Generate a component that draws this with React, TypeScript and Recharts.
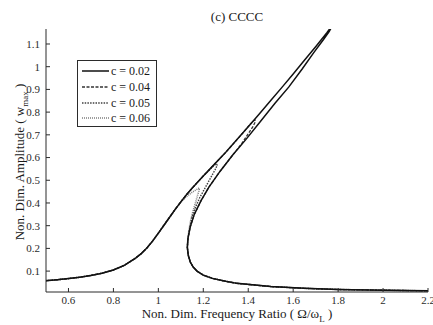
import React from 'react';
import { Line, LineChart, XAxis, YAxis } from 'recharts';

const FONT = "'Liberation Serif', 'Times New Roman', serif";
const INK = '#2b2b2b';

const X_TICKS = [0.6, 0.8, 1, 1.2, 1.4, 1.6, 1.8, 2, 2.2];
const Y_TICKS = [0.1, 0.2, 0.3, 0.4, 0.5, 0.6, 0.7, 0.8, 0.9, 1, 1.1];

// [frequency ratio, amplitude]
const LOW_BRANCH = [
  [0.5, 0.058], [0.55, 0.062], [0.6, 0.067], [0.65, 0.073], [0.7, 0.081],
  [0.75, 0.091], [0.8, 0.105], [0.85, 0.126], [0.9, 0.158], [0.925, 0.178],
  [0.95, 0.203], [0.975, 0.233], [1.0, 0.267], [1.025, 0.302], [1.05, 0.337],
  [1.075, 0.372],
];

// upper stable branch of c = 0.02
const UPPER_BRANCH = [
  [1.1, 0.405], [1.125, 0.436], [1.15, 0.465], [1.2, 0.519], [1.25, 0.571],
  [1.3, 0.623], [1.35, 0.679], [1.4, 0.736], [1.45, 0.793], [1.5, 0.851],
  [1.55, 0.909], [1.6, 0.968], [1.65, 1.028], [1.7, 1.088], [1.75, 1.15],
  [1.775, 1.183],
];

// unstable branch of c = 0.02, coming back down
const MIDDLE_BRANCH = [
  [1.78, 1.19], [1.76, 1.155], [1.735, 1.12], [1.69, 1.06], [1.64, 0.99],
  [1.58, 0.91], [1.52, 0.84], [1.455, 0.76], [1.39, 0.68], [1.33, 0.61],
  [1.275, 0.54], [1.225, 0.47], [1.19, 0.41], [1.16, 0.35], [1.142, 0.295],
  [1.132, 0.245], [1.129, 0.205], [1.133, 0.17], [1.142, 0.14],
];

const HIGH_BRANCH = [
  [1.155, 0.118], [1.172, 0.1], [1.2, 0.082], [1.24, 0.068], [1.3, 0.055],
  [1.35, 0.046], [1.5, 0.032], [1.65, 0.024], [1.8, 0.019], [2.0, 0.016],
  [2.2, 0.013],
];

const PEAK_004 = [
  [1.38, 0.713], [1.405, 0.743], [1.422, 0.76], [1.43, 0.765], [1.432, 0.758],
  [1.42, 0.735], [1.4, 0.705], [1.37, 0.66], [1.33, 0.61],
];

const PEAK_005 = [
  [1.225, 0.543], [1.245, 0.563], [1.258, 0.573], [1.262, 0.566], [1.252, 0.545],
  [1.235, 0.515], [1.21, 0.47], [1.185, 0.425], [1.165, 0.38], [1.15, 0.34],
  [1.14, 0.29],
];

const PEAK_006 = [
  [1.1, 0.403], [1.125, 0.428], [1.15, 0.447], [1.17, 0.459], [1.181, 0.466],
  [1.182, 0.458], [1.175, 0.435], [1.165, 0.4], [1.153, 0.36], [1.143, 0.32],
  [1.136, 0.28], [1.131, 0.24],
];

const toRows = (pts: number[][]) => pts.map(([f, a]) => ({ f, a }));

const C002 = toRows([...LOW_BRANCH, ...UPPER_BRANCH, ...MIDDLE_BRANCH, ...HIGH_BRANCH]);
const C004 = toRows([
  ...LOW_BRANCH,
  ...UPPER_BRANCH.filter((p) => p[0] <= 1.35),
  ...PEAK_004,
  ...MIDDLE_BRANCH.filter((p) => p[1] < 0.6),
  ...HIGH_BRANCH,
]);
const C005 = toRows([
  ...LOW_BRANCH,
  ...UPPER_BRANCH.filter((p) => p[0] <= 1.2),
  ...PEAK_005,
  ...MIDDLE_BRANCH.filter((p) => p[1] < 0.28),
  ...HIGH_BRANCH,
]);
const C006 = toRows([
  ...LOW_BRANCH,
  ...PEAK_006,
  ...MIDDLE_BRANCH.filter((p) => p[1] < 0.23),
  ...HIGH_BRANCH,
]);

const SERIES = [
  { name: 'c = 0.02', data: C002, stroke: '#111111', dash: undefined, width: 1.5 },
  { name: 'c = 0.04', data: C004, stroke: '#333333', dash: '3 1.5', width: 1.3 },
  { name: 'c = 0.05', data: C005, stroke: '#404040', dash: '1.5 1.2', width: 1.4 },
  { name: 'c = 0.06', data: C006, stroke: '#808080', dash: '1 1', width: 1.6 },
];

const fmt = (v: number) => String(Number(v.toFixed(1)));

const textStyle = { fontFamily: FONT, fontSize: 11, fill: INK };

const BottomTick = ({ x, y, payload }: any) => (
  <g>
    <line x1={x} x2={x} y1={y - 4} y2={y - 8} stroke={INK} />
    <text x={x} y={y} dy="0.71em" textAnchor="middle" {...textStyle}>
      {fmt(payload.value)}
    </text>
  </g>
);

const LeftTick = ({ x, y, payload }: any) => (
  <g>
    <line x1={x + 6} x2={x + 10} y1={y} y2={y} stroke={INK} />
    <text x={x} y={y} dy="0.35em" textAnchor="end" {...textStyle}>
      {fmt(payload.value)}
    </text>
  </g>
);

const TopTick = ({ x, y }: any) => (
  <line x1={x} x2={x} y1={y} y2={y + 4} stroke={INK} />
);

const RightTick = ({ x, y }: any) => (
  <line x1={x} x2={x - 4} y1={y} y2={y} stroke={INK} />
);

const LEGEND_ROWS = [10, 25.7, 41.5, 57.2];

export default function App() {
  return (
    <div
      style={{
        position: 'absolute',
        left: 0,
        top: 0,
        width: 433,
        height: 325,
        background: '#fff',
        fontFamily: FONT,
        color: '#1a1a1a',
      }}
    >
      <LineChart width={433} height={325} margin={{ top: 29, right: 5, bottom: 0, left: 0 }}>
        <XAxis
          type="number"
          dataKey="f"
          domain={[0.5, 2.2]}
          allowDataOverflow
          ticks={X_TICKS}
          interval={0}
          height={33}
          tickSize={0}
          tickMargin={4}
          tick={<BottomTick />}
          axisLine={{ stroke: INK }}
        />
        <XAxis
          xAxisId="top"
          orientation="top"
          type="number"
          dataKey="f"
          domain={[0.5, 2.2]}
          allowDataOverflow
          ticks={X_TICKS}
          interval={0}
          height={0}
          tickSize={0}
          tickMargin={0}
          tick={<TopTick />}
          axisLine={{ stroke: INK }}
        />
        <YAxis
          type="number"
          dataKey="a"
          domain={[0.008, 1.166]}
          allowDataOverflow
          ticks={Y_TICKS}
          interval={0}
          width={46}
          tickSize={0}
          tickMargin={6}
          tick={<LeftTick />}
          axisLine={{ stroke: INK }}
        />
        <YAxis
          yAxisId="right"
          orientation="right"
          type="number"
          domain={[0.008, 1.166]}
          allowDataOverflow
          ticks={Y_TICKS}
          interval={0}
          width={0}
          tickSize={0}
          tickMargin={0}
          tick={<RightTick />}
          axisLine={{ stroke: INK }}
        />
        {[...SERIES].reverse().map((s) => (
          <Line
            key={s.name}
            name={s.name}
            data={s.data}
            dataKey="a"
            type="linear"
            stroke={s.stroke}
            strokeWidth={s.width}
            strokeDasharray={s.dash}
            dot={false}
            activeDot={false}
            isAnimationActive={false}
          />
        ))}
      </LineChart>

      <div
        style={{
          position: 'absolute',
          left: 46,
          width: 382,
          top: 9,
          textAlign: 'center',
          fontSize: 13,
          lineHeight: '15px',
        }}
      >
        (c) CCCC
      </div>

      <div
        style={{
          position: 'absolute',
          left: 46,
          width: 382,
          top: 306,
          textAlign: 'center',
          fontSize: 13,
          lineHeight: '15px',
          whiteSpace: 'nowrap',
        }}
      >
        Non. Dim. Frequency Ratio ( Ω/ω<sub style={{ fontSize: 9 }}>L</sub> )
      </div>

      <div
        style={{
          position: 'absolute',
          left: 20 - 110,
          top: 162 - 8,
          width: 220,
          height: 16,
          textAlign: 'center',
          fontSize: 13,
          lineHeight: '16px',
          whiteSpace: 'nowrap',
          transform: 'rotate(-90deg)',
        }}
      >
        Non. Dim. Amplitude ( w<sub style={{ fontSize: 9 }}>max</sub> )
      </div>

      <div
        style={{
          position: 'absolute',
          left: 77,
          top: 60,
          width: 80,
          height: 67,
          border: `1px solid ${INK}`,
          background: '#fff',
          boxSizing: 'border-box',
        }}
      >
        {SERIES.map((s, i) => (
          <div
            key={s.name}
            style={{
              position: 'absolute',
              left: 4,
              top: LEGEND_ROWS[i] - 7,
              height: 14,
              display: 'flex',
              alignItems: 'center',
              fontSize: 12,
              lineHeight: '14px',
              whiteSpace: 'nowrap',
            }}
          >
            <svg width={27} height={14} style={{ display: 'block' }}>
              <line
                x1={0}
                x2={27}
                y1={7}
                y2={7}
                stroke={s.stroke}
                strokeWidth={s.width}
                strokeDasharray={s.dash}
              />
            </svg>
            <span style={{ marginLeft: 2 }}>{s.name}</span>
          </div>
        ))}
      </div>
    </div>
  );
}
